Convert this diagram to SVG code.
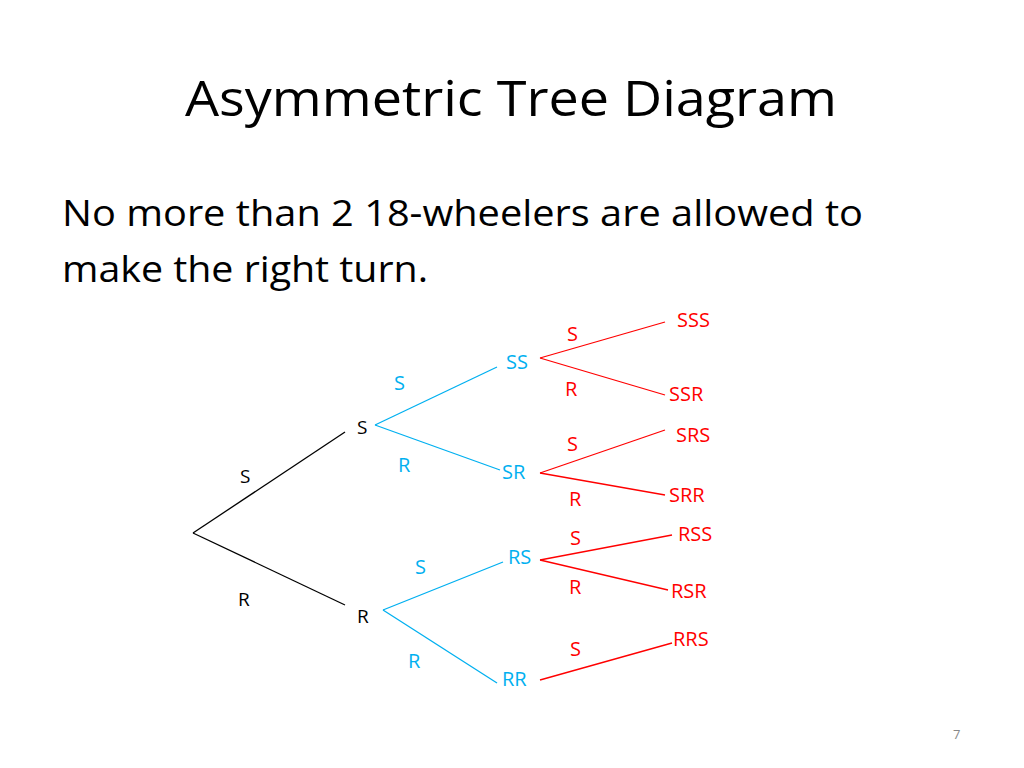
<svg xmlns="http://www.w3.org/2000/svg" width="1024" height="768" viewBox="0 0 1024 768">
<style>
text{font-family:"Open Sans","Liberation Sans",sans-serif}
.t{font-size:50px;fill:#000}
.b{font-size:36px;fill:#000}
.k{font-size:19px;fill:#000}
.c{font-size:20px;fill:#00B0F0}
.r{font-size:20px;fill:#FF0000}
.lk{stroke:#000;stroke-width:1.3;fill:none}
.lc{stroke:#00B0F0;stroke-width:1.3;fill:none}
.lr{stroke:#FF0000;stroke-width:1.3;fill:none}
</style>
<rect width="1024" height="768" fill="#fff"/>
<text class="t" x="185" y="116" textLength="652" lengthAdjust="spacingAndGlyphs">Asymmetric Tree Diagram</text>
<text class="b" x="62" y="226" textLength="801" lengthAdjust="spacingAndGlyphs">No more than 2 18-wheelers are allowed to</text>
<text class="b" x="62" y="282" textLength="366" lengthAdjust="spacingAndGlyphs">make the right turn.</text>
<g id="connectors">
<line class="lk" x1="193" y1="533" x2="345" y2="432"/>
<line class="lk" x1="193" y1="533" x2="345" y2="605"/>
<line class="lc" x1="375" y1="425" x2="497" y2="367"/>
<line class="lc" x1="375" y1="425" x2="500" y2="470"/>
<line class="lc" x1="383" y1="610" x2="503" y2="562"/>
<line class="lc" x1="383" y1="610" x2="497" y2="683"/>
<line class="lr" x1="540" y1="358" x2="665" y2="322"/>
<line class="lr" x1="540" y1="358" x2="665" y2="395"/>
<line class="lr" x1="540" y1="473" x2="665" y2="430"/>
<line class="lr" x1="540" y1="473" x2="665" y2="495"/>
<line class="lr" x1="540" y1="560" x2="672" y2="535"/>
<line class="lr" x1="540" y1="560" x2="668" y2="590"/>
<line class="lr" x1="540" y1="680" x2="672" y2="643"/>
</g>
<g id="labels-black">
<text class="k" x="240" y="483">S</text>
<text class="k" x="238" y="606">R</text>
<text class="k" x="357" y="434">S</text>
<text class="k" x="357" y="623">R</text>
</g>
<g id="labels-blue">
<text class="c" x="394" y="390">S</text>
<text class="c" x="398" y="472">R</text>
<text class="c" x="506" y="369">SS</text>
<text class="c" x="502" y="479">SR</text>
<text class="c" x="415" y="574">S</text>
<text class="c" x="508" y="564">RS</text>
<text class="c" x="408" y="668">R</text>
<text class="c" x="502" y="686">RR</text>
</g>
<g id="labels-red">
<text class="r" x="567" y="341">S</text>
<text class="r" x="565" y="396">R</text>
<text class="r" x="677" y="327">SSS</text>
<text class="r" x="669" y="401">SSR</text>
<text class="r" x="567" y="451">S</text>
<text class="r" x="569" y="506">R</text>
<text class="r" x="676" y="442">SRS</text>
<text class="r" x="669" y="502">SRR</text>
<text class="r" x="570" y="545">S</text>
<text class="r" x="569" y="594">R</text>
<text class="r" x="678" y="541">RSS</text>
<text class="r" x="671" y="598">RSR</text>
<text class="r" x="570" y="656">S</text>
<text class="r" x="673" y="646">RRS</text>
</g>
<text x="953" y="739" style="font-size:13px;fill:#888">7</text>
</svg>
